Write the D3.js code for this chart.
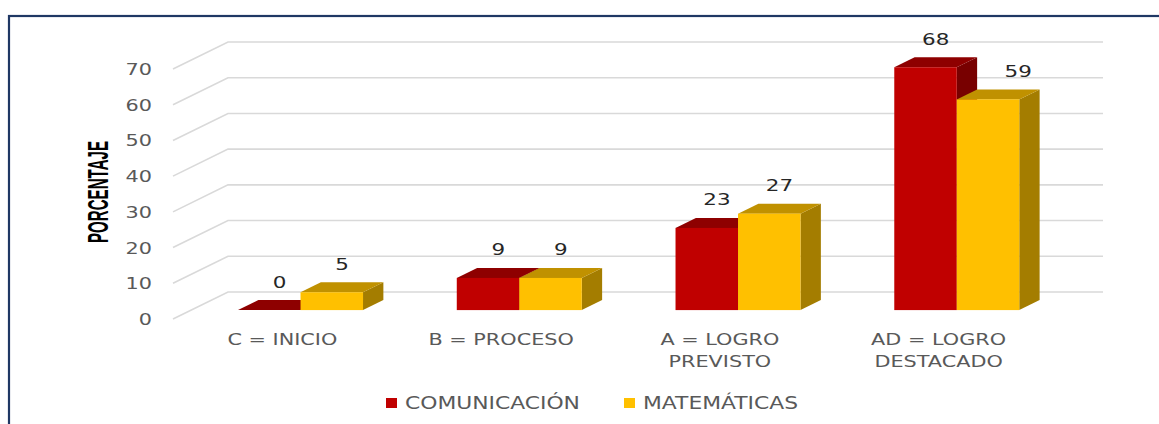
<!DOCTYPE html>
<html>
<head>
<meta charset="utf-8">
<script src="https://cdn.jsdelivr.net/npm/d3@7"></script>
<style>
  html, body { margin: 0; padding: 0; background: #fff; }
  svg { display: block; }
</style>
</head>
<body>
<div id="chart"></div>
<script>
// Datos
const categories = ["C = INICIO", "B = PROCESO", "A = LOGRO PREVISTO", "AD = LOGRO DESTACADO"];
const series = ["COMUNICACIÓN", "MATEMÁTICAS"];
const comunicacion = [0, 9, 23, 68];
const matematicas = [5, 9, 27, 59];
const yTicks = [0, 10, 20, 30, 40, 50, 60, 70];
const yTitle = "PORCENTAJE";

// Impostazioni
const width = 1159;
const height = 424;
const stretch = 1.3;          // testo allargato come nell'originale
const ox = 173, oy = 319;     // angolo anteriore sinistro del pavimento
const DX = 55, DY = 27;       // profondità del piano
const zFront = 0.33, zBack = 0.7;

const colors = [
  { front: "#C00000", top: "#8E0000", side: "#780000" },
  { front: "#FFC000", top: "#C09100", side: "#A47D00" }
];

const svg = d3.select("#chart")
  .append("svg")
  .attr("width", width)
  .attr("height", height);

// Cornice
svg.append("rect")
  .attr("x", 9).attr("y", 16)
  .attr("width", width + 20).attr("height", height + 20)
  .attr("fill", "#fff")
  .attr("stroke", "#1F3864")
  .attr("stroke-width", 2.2);

const x0 = d3.scaleBand().domain(categories).range([0, 875]);
const x1 = d3.scaleBand().domain(series).range([0, x0.bandwidth()]).paddingOuter(0.75);
const y = d3.scaleLinear().domain([0, 70]).range([0, 250]);

// proiezione obliqua: x orizzontale, v valore, z profondità 0..1
function proj(x, v, z) {
  return [ox + x + z * DX, oy - y(v) - z * DY];
}
const pts = arr => arr.map(p => p.join(",")).join(" ");

// Griglia: parete di fondo e parete laterale
const grid = svg.append("g");
yTicks.forEach(t => {
  const a = proj(0, t, 0), b = proj(0, t, 1), c = proj(x0.range()[1], t, 1);
  grid.append("polyline")
    .attr("points", pts([a, b, c]))
    .attr("fill", "none")
    .attr("stroke", "#D9D9D9")
    .attr("stroke-width", 1.6);
});

// Etichette asse Y
yTicks.forEach(t => {
  const p = proj(0, t, 0);
  svg.append("text")
    .attr("transform", `translate(${p[0] - 21},${p[1] + 6}) scale(${stretch},1)`)
    .attr("text-anchor", "end")
    .attr("font-family", "DejaVu Sans, Verdana, sans-serif")
    .attr("font-size", "16px")
    .attr("fill", "#595959")
    .text(t);
});

// Titolo asse Y
svg.append("text")
  .attr("transform", "translate(107.5,192) rotate(-90)")
  .attr("text-anchor", "middle")
  .attr("font-family", "Liberation Sans Narrow, Arial Narrow, Liberation Sans, sans-serif")
  .attr("font-weight", "bold")
  .attr("font-size", "29px")
  .attr("textLength", 102)
  .attr("lengthAdjust", "spacingAndGlyphs")
  .attr("fill", "#000")
  .text(yTitle);

// Barre 3D
const values = [comunicacion, matematicas];
const bars = svg.append("g");
categories.forEach((cat, i) => {
  series.forEach((s, k) => {
    const v = values[k][i];
    const xl = x0(cat) + x1(s);
    const xr = xl + x1.bandwidth();
    const col = colors[k];
    const g = bars.append("g");
    // lato destro
    g.append("polygon")
      .attr("points", pts([proj(xr, 0, zFront), proj(xr, 0, zBack), proj(xr, v, zBack), proj(xr, v, zFront)]))
      .attr("fill", col.side);
    // faccia superiore
    g.append("polygon")
      .attr("points", pts([proj(xl, v, zFront), proj(xr, v, zFront), proj(xr, v, zBack), proj(xl, v, zBack)]))
      .attr("fill", col.top);
    // faccia frontale
    const f0 = proj(xl, v, zFront), f1 = proj(xr, 0, zFront);
    g.append("rect")
      .attr("x", f0[0]).attr("y", f0[1])
      .attr("width", f1[0] - f0[0]).attr("height", f1[1] - f0[1])
      .attr("fill", col.front);
  });
});

// Etichette dei valori
categories.forEach((cat, i) => {
  series.forEach((s, k) => {
    const v = values[k][i];
    const xc = x0(cat) + x1(s) + x1.bandwidth() / 2;
    const p = proj(xc, v, (zFront + zBack) / 2);
    // se la barra precedente è più alta, sposta l'etichetta a destra
    let shift = 0;
    if (k > 0 && values[k - 1][i] > v + 5) shift = 20;
    svg.append("text")
      .attr("transform", `translate(${p[0] + shift},${p[1] - 17.5}) scale(${stretch},1)`)
      .attr("text-anchor", "middle")
      .attr("font-family", "DejaVu Sans, Verdana, sans-serif")
      .attr("font-size", "16.5px")
      .attr("fill", "#262626")
      .text(v);
  });
});

// Etichette categorie
categories.forEach(cat => {
  const words = cat.split(" ");
  const lines = words.length > 3 ? [words.slice(0, 3).join(" "), words.slice(3).join(" ")] : [cat];
  const p = proj(x0(cat) + x0.bandwidth() / 2, 0, 0);
  lines.forEach((ln, j) => {
    svg.append("text")
      .attr("transform", `translate(${p[0]},${p[1] + 26 + j * 22}) scale(${stretch},1)`)
      .attr("text-anchor", "middle")
      .attr("font-family", "DejaVu Sans, Verdana, sans-serif")
      .attr("font-size", "16px")
      .attr("fill", "#595959")
      .text(ln);
  });
});

// Legenda
const legend = svg.append("g");
series.forEach((s, k) => {
  const lx = 386 + k * 238;
  legend.append("rect")
    .attr("x", lx).attr("y", 398)
    .attr("width", 11).attr("height", 10)
    .attr("fill", colors[k].front);
  legend.append("text")
    .attr("transform", `translate(${lx + 19},408.5) scale(${stretch},1)`)
    .attr("font-family", "DejaVu Sans, Verdana, sans-serif")
    .attr("font-size", "16.8px")
    .attr("fill", "#595959")
    .text(s);
});
</script>
</body>
</html>
